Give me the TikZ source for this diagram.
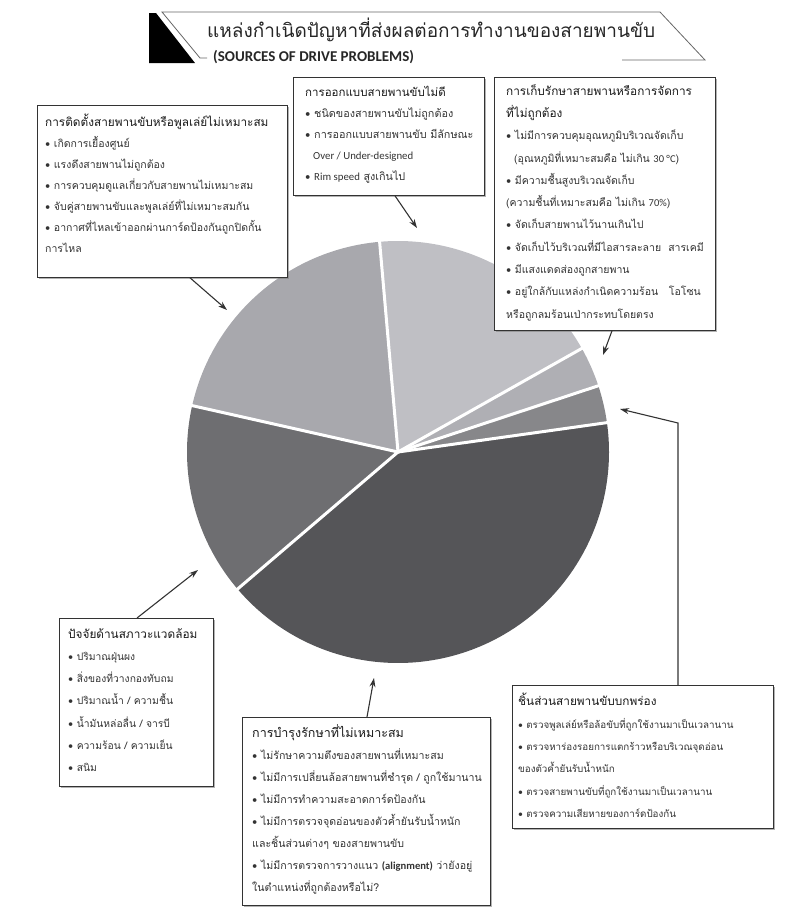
\documentclass[tikz,border=0pt]{standalone}
\usepackage{fontspec}
\setmainfont{Carlito}
\newfontfamily\thai[Script=Thai]{Loma}
\newfontfamily\lat{Carlito}
\usetikzlibrary{arrows.meta,shadows}
\definecolor{sA}{HTML}{87878A}
\definecolor{sB}{HTML}{AFAFB4}
\definecolor{sC}{HTML}{BFBFC4}
\definecolor{sD}{HTML}{A8A8AD}
\definecolor{sE}{HTML}{6E6E71}
\definecolor{sF}{HTML}{555558}
\tikzset{
  box/.style={draw=black!80, line width=0.8pt, fill=white, rectangle, anchor=north west, inner sep=0pt,
    drop shadow={shadow xshift=1.5pt, shadow yshift=-1.5pt, opacity=0.6, fill=black!50}},
  txt/.style n args={3}{anchor=north west, inner sep=0pt, align=left, text=black!80,
    font=\thai\fontsize{#1}{#3}\selectfont\def\hdfs{#2}\def\bsk{#3}},
  conn/.style={draw=black!80, line width=1.1pt, -{Stealth[length=9pt,width=6pt]}},
  sep/.style={draw=white, line width=3pt},
}
\newcommand{\bul}{{\lat •}\ }
\newcommand{\hd}[1]{{\fontsize{\hdfs}{\bsk}\selectfont\color{black!90}#1}}
\begin{document}
\begin{tikzpicture}[x=1pt,y=-1pt]
\useasboundingbox (0,0) rectangle (789,916);
% banner
\fill[black] (149,13) -- (156,13) -- (195,63) -- (149,63) -- cycle;
\draw[black!60, line width=0.8pt] (207,58) -- (200,58) -- (162,12) -- (660,12) -- (705,60) -- (622,60);
\node[anchor=west, inner sep=0pt, font=\thai\fontsize{19}{22}\selectfont, text=black!85] (title) at (207,30) {แหล่งกำเนิดปัญหาที่ส่งผลต่อการทำงานของสายพานขับ};
\node[anchor=west, inner sep=0pt, font=\lat\bfseries\fontsize{15}{17}\selectfont, text=black!85] (sub) at (213,57) {(SOURCES OF DRIVE PROBLEMS)};

% pie
\begin{scope}[shift={(398,452)}, y=1pt]
\fill[sA] (0,0) -- (8:211) arc[start angle=8, end angle=18.3, radius=211] -- cycle;
\fill[sB] (0,0) -- (18.3:211) arc[start angle=18.3, end angle=29.4, radius=211] -- cycle;
\fill[sC] (0,0) -- (29.4:211) arc[start angle=29.4, end angle=95, radius=211] -- cycle;
\fill[sD] (0,0) -- (95:211) arc[start angle=95, end angle=167.3, radius=211] -- cycle;
\fill[sE] (0,0) -- (167.3:211) arc[start angle=167.3, end angle=220.5, radius=211] -- cycle;
\fill[sF] (0,0) -- (220.5:211) arc[start angle=220.5, end angle=368, radius=211] -- cycle;
\foreach \a in {8,18.3,29.4,95,167.3,220.5} \draw[sep] (0,0) -- (\a:213);
\end{scope}

% boxes
\node[box, minimum width=250pt, minimum height=172pt] (inst) at (37,105) {};
\node[box, minimum width=191pt, minimum height=118pt] (des) at (293,77) {};
\node[box, minimum width=221pt, minimum height=253pt] (stor) at (494,77) {};
\node[box, minimum width=154pt, minimum height=168pt] (env) at (59,618) {};
\node[box, minimum width=248pt, minimum height=188pt] (maint) at (242,717) {};
\node[box, minimum width=261pt, minimum height=143pt] (parts) at (512,685) {};

\node[txt={10.5}{11.8}{21}] (instT) at (45,114) {\hd{การติดตั้งสายพานขับหรือพูลเล่ย์ไม่เหมาะสม}\\
\bul เกิดการเยื้องศูนย์\\
\bul แรงดึงสายพานไม่ถูกต้อง\\
\bul การควบคุมดูแลเกี่ยวกับสายพานไม่เหมาะสม\\
\bul จับคู่สายพานขับและพูลเล่ย์ที่ไม่เหมาะสมกัน\\
\bul อากาศที่ไหลเข้าออกผ่านการ์ดป้องกันถูกปิดกั้น\\
การไหล};

\node[txt={10.8}{11.5}{21}] (desT) at (305,86) {\hd{การออกแบบสายพานขับไม่ดี}\\
\bul ชนิดของสายพานขับไม่ถูกต้อง\\
\bul การออกแบบสายพานขับ มีลักษณะ\\
\hspace*{8pt}{\lat Over / Under-designed}\\
\bul {\lat Rim speed} สูงเกินไป};

\node[txt={10.5}{11.8}{22.3}] (storT) at (506,84) {\hd{การเก็บรักษาสายพานหรือการจัดการ}\\
\hd{ที่ไม่ถูกต้อง}\\
\bul ไม่มีการควบคุมอุณหภูมิบริเวณจัดเก็บ\\
\hspace*{8pt}(อุณหภูมิที่เหมาะสมคือ ไม่เกิน {\lat 30 °C})\\
\bul มีความชื้นสูงบริเวณจัดเก็บ\\
(ความชื้นที่เหมาะสมคือ ไม่เกิน {\lat 70\%})\\
\bul จัดเก็บสายพานไว้นานเกินไป\\
\bul จัดเก็บไว้บริเวณที่มีไอสารละลาย \ สารเคมี\\
\bul มีแสงแดดส่องถูกสายพาน\\
\bul อยู่ใกล้กับแหล่งกำเนิดความร้อน \ \ โอโซน\\
หรือถูกลมร้อนเป่ากระทบโดยตรง};

\node[txt={10.3}{11.8}{22.3}] (envT) at (68,628) {\hd{ปัจจัยด้านสภาวะแวดล้อม}\\
\bul ปริมาณฝุ่นผง\\
\bul สิ่งของที่วางกองทับถม\\
\bul ปริมาณน้ำ / ความชื้น\\
\bul น้ำมันหล่อลื่น / จารบี\\
\bul ความร้อน / ความเย็น\\
\bul สนิม};

\node[txt={10.6}{12.5}{22}] (maintT) at (252,724) {\hd{การบำรุงรักษาที่ไม่เหมาะสม}\\
\bul ไม่รักษาความตึงของสายพานที่เหมาะสม\\
\bul ไม่มีการเปลี่ยนล้อสายพานที่ชำรุด / ถูกใช้มานาน\\
\bul ไม่มีการทำความสะอาดการ์ดป้องกัน\\
\bul ไม่มีการตรวจจุดอ่อนของตัวค้ำยันรับน้ำหนัก\\
และชิ้นส่วนต่างๆ ของสายพานขับ\\
\bul ไม่มีการตรวจการวางแนว {\lat\bfseries (alignment)} ว่ายังอยู่\\
ในตำแหน่งที่ถูกต้องหรือไม่?};

\node[txt={9.8}{11.8}{22.4}] (partsT) at (518,693) {\hd{ชิ้นส่วนสายพานขับบกพร่อง}\\
\bul ตรวจพูลเล่ย์หรือล้อขับที่ถูกใช้งานมาเป็นเวลานาน\\
\bul ตรวจหาร่องรอยการแตกร้าวหรือบริเวณจุดอ่อน\\
ของตัวค้ำยันรับน้ำหนัก\\
\bul ตรวจสายพานขับที่ถูกใช้งานมาเป็นเวลานาน\\
\bul ตรวจความเสียหายของการ์ดป้องกัน};

% connectors
\coordinate (tipInst) at (227,310);
\coordinate (tipDes) at (417,228);
\coordinate (tipStor) at (603,355);
\coordinate (partsBend) at (678,423);
\coordinate (tipParts) at (620,409);
\coordinate (tipEnv) at (198,570);
\coordinate (tipMaint) at (374,678);
\draw[conn] ([xshift=153pt]inst.south west) -- (tipInst);
\draw[conn] ([xshift=102pt]des.south west) -- (tipDes);
\draw[conn] ([xshift=118pt]stor.south west) -- (tipStor);
\draw[conn] ([xshift=166pt]parts.north west) -- (partsBend) -- (tipParts);
\draw[conn] ([xshift=78pt]env.north west) -- (tipEnv);
\draw[conn] ([xshift=125pt]maint.north west) -- (tipMaint);
\end{tikzpicture}
\end{document}
